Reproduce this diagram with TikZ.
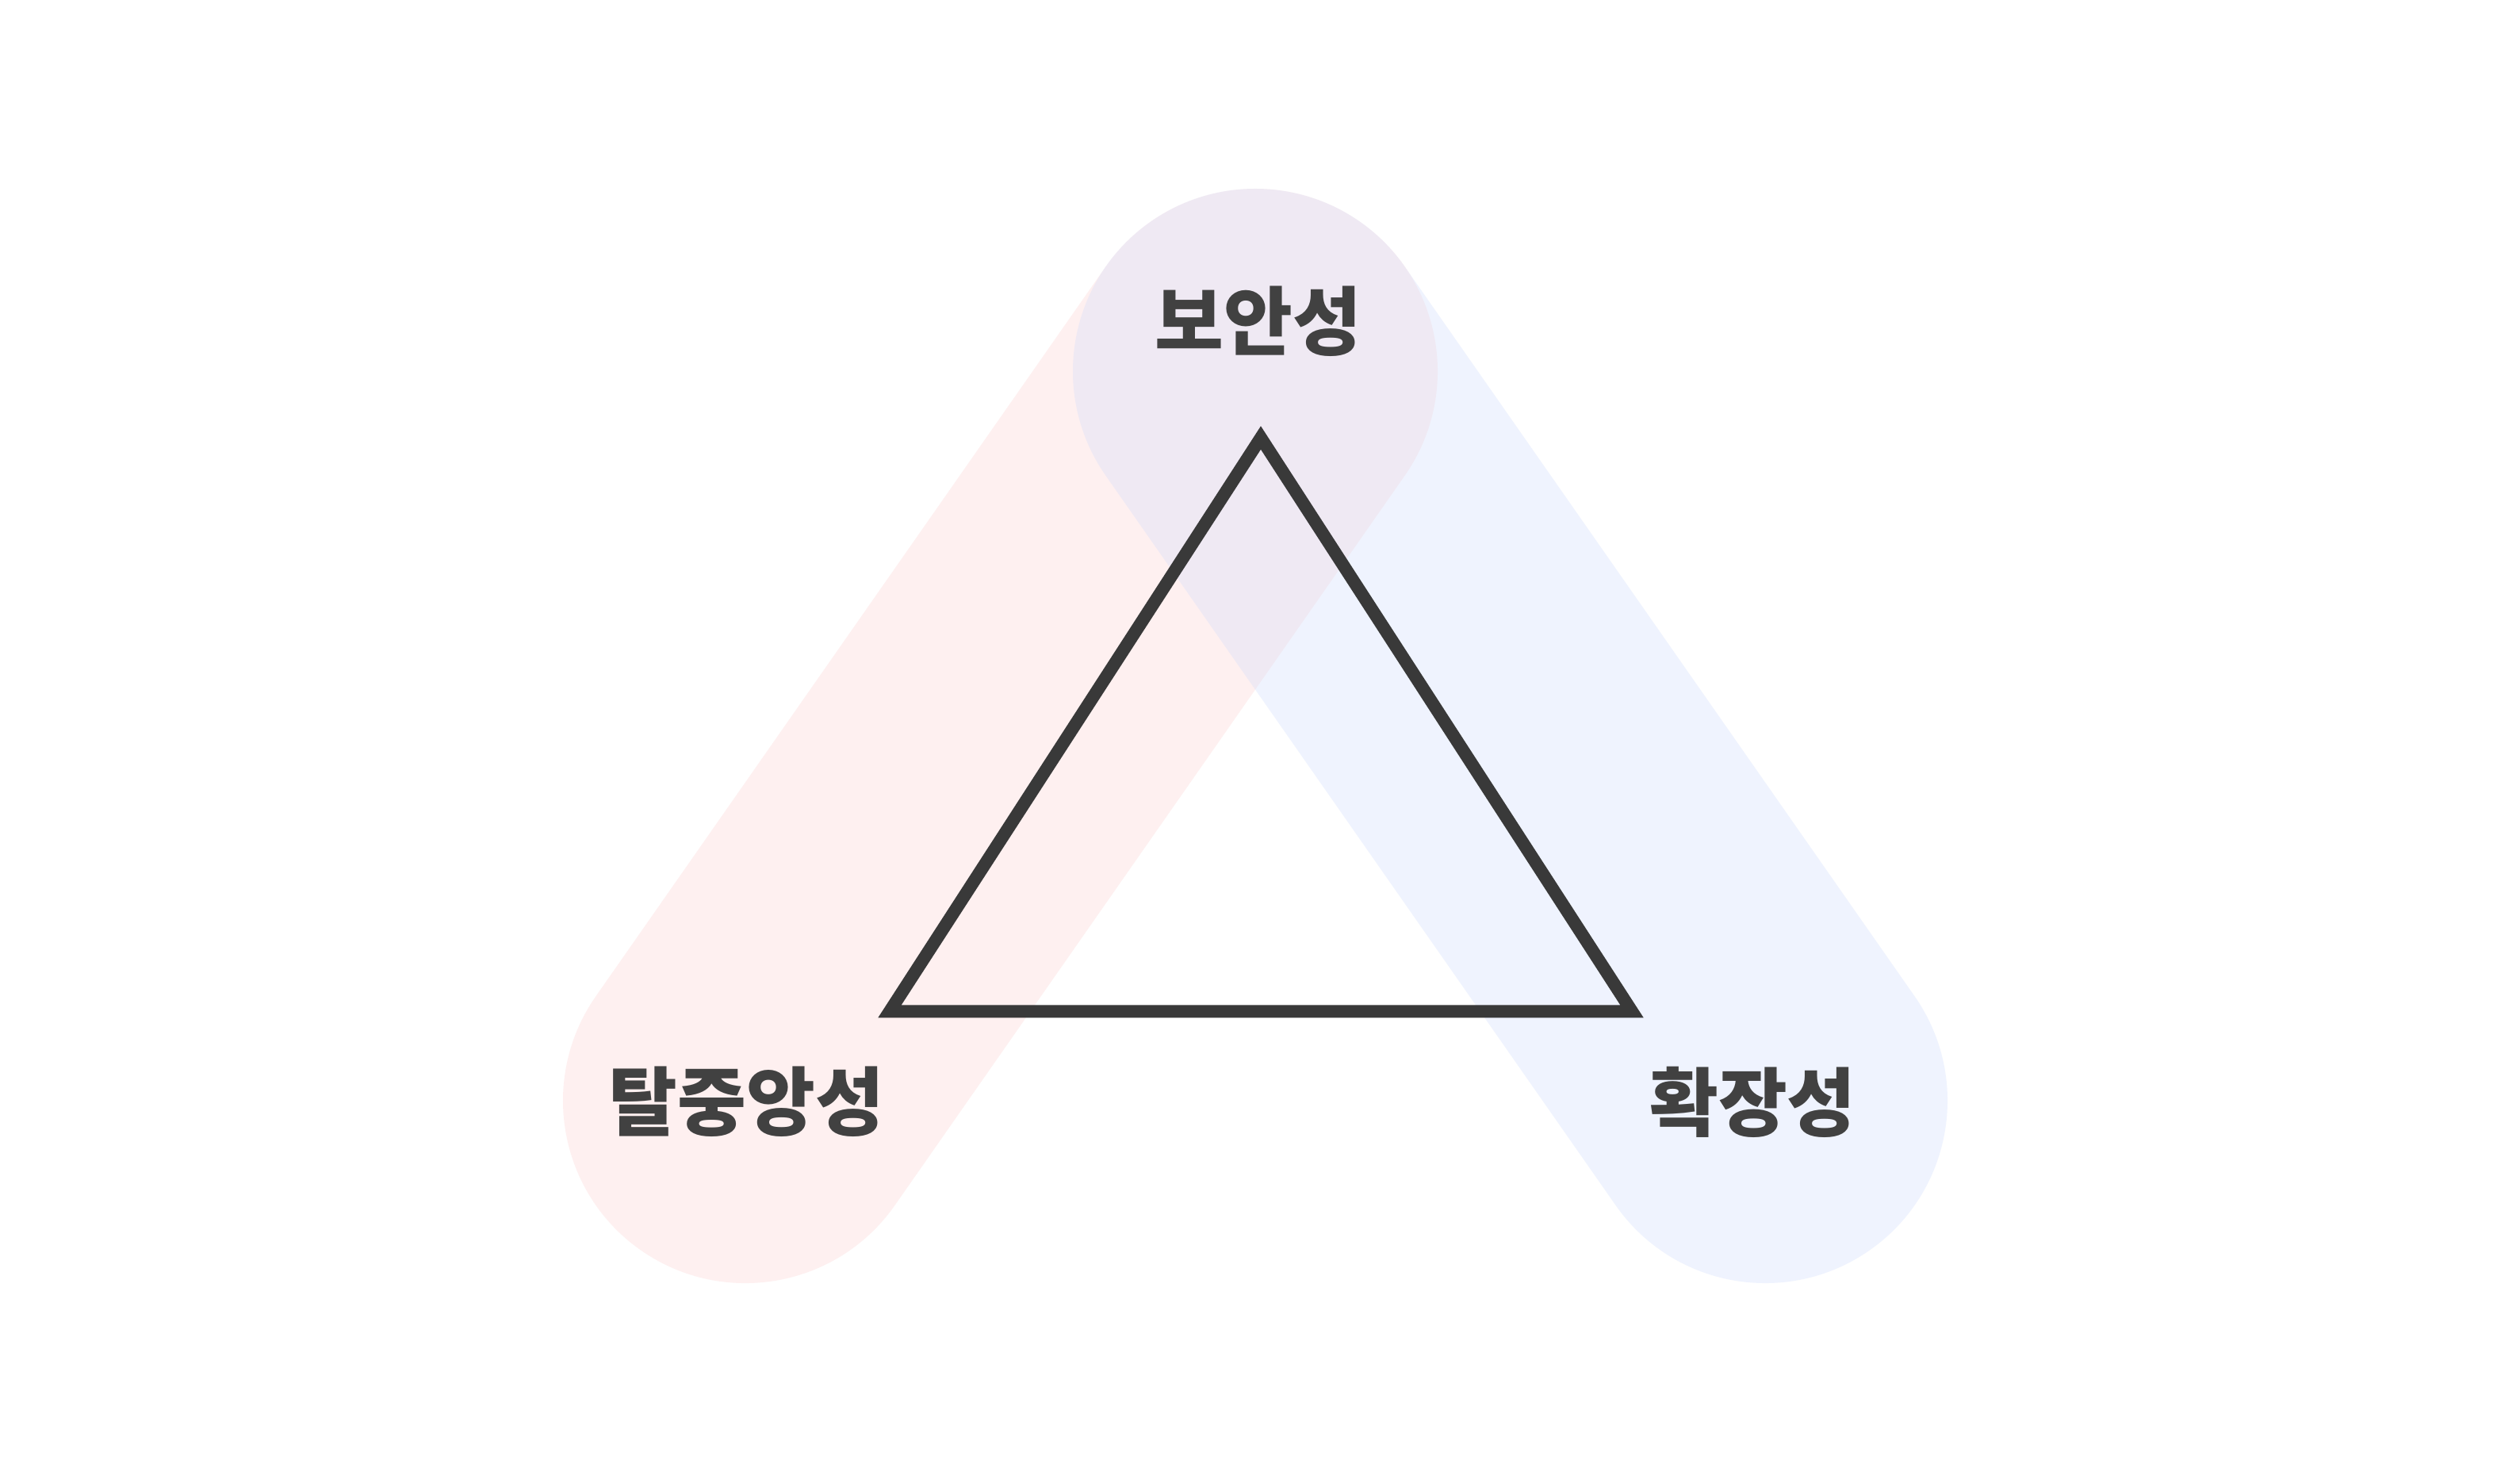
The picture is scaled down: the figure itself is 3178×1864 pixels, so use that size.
\documentclass[tikz,border=0pt]{standalone}
\usepackage{fontspec}
\setmainfont{Noto Sans CJK KR}
\definecolor{bandpink}{RGB}{254,240,240}
\definecolor{bandblue}{RGB}{205,218,252}
\definecolor{txtgray}{RGB}{65,65,65}
\definecolor{trigray}{RGB}{57,57,57}
\tikzset{
  band/.style={line width=115pt, line cap=round},
  label/.style={inner sep=0pt, text=txtgray, font=\fontsize{23.6pt}{28pt}\selectfont\bfseries},
  tri/.style={draw=trigray, line width=4pt, line join=miter}
}
\begin{document}
\begin{tikzpicture}[x=0.25pt,y=-0.25pt]
\useasboundingbox[fill=white] (0,0) rectangle (3178,1864);
% circle centres
\coordinate (L) at (940,1388);
\coordinate (T) at (1583,468);
\coordinate (R) at (2226,1388);
% bands
\draw[band, draw=bandpink] (L) -- (T);
\draw[band, draw=bandblue, draw opacity=0.3] (T) -- (R);
% triangle
\coordinate (A) at (1590,552);
\coordinate (B) at (1122,1275.3);
\coordinate (C) at (2058,1275.3);
\draw[tri] (A) -- (B) -- (C) -- cycle;
% labels
\node[label] (sec) at (1587,405.5) {보안성};
\node[label] (dec) at (941.5,1389) {탈중앙성};
\node[label] (sca) at (2210.5,1389.5) {확장성};
\end{tikzpicture}
\end{document}
